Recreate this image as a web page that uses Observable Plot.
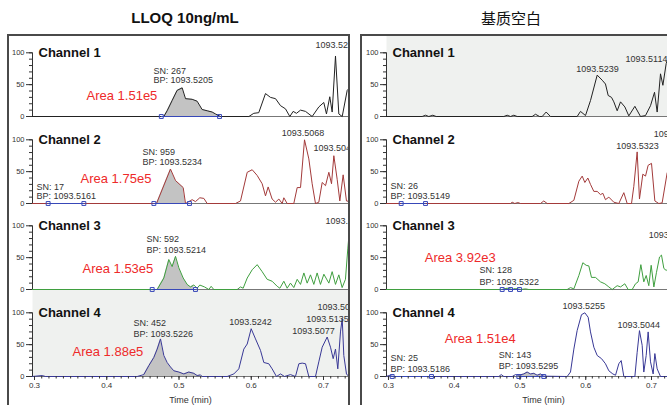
<!DOCTYPE html>
<html><head><meta charset="utf-8">
<script src="https://cdn.jsdelivr.net/npm/d3@7"></script>
<script src="https://cdn.jsdelivr.net/npm/@observablehq/plot@0.6"></script>
<style>
html,body{margin:0;padding:0;background:#fff;overflow:hidden}
#root{position:relative;width:667px;height:405px;overflow:hidden;background:#fff;font-family:"Liberation Sans",Arial,sans-serif}
.title{position:absolute;top:9px;line-height:18px;font-size:15px;color:#111;white-space:nowrap;transform:translateX(-50%)}
.frame{position:absolute;top:34px;height:400px;border:2px solid #4a4a4a;overflow:hidden}
</style></head><body>
<div id="root">
<div class="title" style="left:185px;font-weight:bold">LLOQ 10ng/mL</div>
<div class="title" style="left:511px;font-family:'Noto Sans CJK SC',sans-serif">基质空白</div>
<div class="frame" id="colL" style="left:7px;width:339px"></div>
<div class="frame" id="colR" style="left:360px;width:400px"></div>
</div>
<script>
const columnTitles = ["LLOQ 10ng/mL", "基质空白"];
const channels = ["Channel 1", "Channel 2", "Channel 3", "Channel 4"];
const xTicks = [0.3, 0.4, 0.5, 0.6, 0.7];
const yTicks = [0, 50, 100];
const yMinorTicks = [0, 10, 20, 30, 40, 50, 60, 70, 80, 90, 100];
const xLabel = "Time (min)";
const traceColors = ["#222222", "#a33a3a", "#3f9f3f", "#383896"];

// LLOQ 10ng/mL traces: [time (min), relative intensity %]
const lloqCh1 = [[0.297,0],[0.479,0],[0.4836,9],[0.4905,25],[0.4974,41],[0.5044,45],[0.509,28],[0.5182,27],[0.5251,24],[0.532,11],[0.539,9],[0.5459,7],[0.5505,4],[0.5574,0],[0.5967,0],[0.6035,5],[0.6104,6],[0.6197,36],[0.6266,30],[0.6336,28],[0.6405,17],[0.6474,12],[0.6534,0],[0.658,8],[0.6626,5],[0.6682,10],[0.6751,8],[0.6843,0],[0.6935,15],[0.7004,22],[0.7041,4],[0.7087,31],[0.712,7],[0.7166,95],[0.7212,4],[0.7259,0],[0.7328,41],[0.737,46]];
const lloqCh2 = [[0.297,0],[0.4689,0],[0.4882,54],[0.4952,36],[0.5058,25],[0.509,0],[0.5182,6],[0.5228,3],[0.5288,9],[0.5344,8],[0.539,0],[0.5782,0],[0.5851,4],[0.5944,49],[0.6013,53],[0.6082,44],[0.6151,31],[0.6197,12],[0.6234,26],[0.6289,7],[0.6336,2],[0.6382,7],[0.6428,0],[0.6451,9],[0.6497,0],[0.6589,0],[0.6636,25],[0.6682,25],[0.6737,100],[0.6797,70],[0.6843,31],[0.6889,0],[0.6935,2],[0.6982,33],[0.7028,28],[0.7074,49],[0.7111,31],[0.7143,75],[0.7189,38],[0.7226,4],[0.7272,45],[0.7318,4],[0.7364,3]];
const lloqCh3 = [[0.297,0],[0.4698,0],[0.479,18],[0.4859,47],[0.4905,36],[0.4952,52],[0.4998,34],[0.5058,18],[0.5113,8],[0.5159,4],[0.5205,7],[0.5251,2],[0.5288,7],[0.5353,4],[0.5413,0],[0.5445,5],[0.5482,0],[0.5805,0],[0.5851,4],[0.5888,2],[0.5944,18],[0.6013,31],[0.6082,39],[0.6151,28],[0.622,16],[0.6289,13],[0.6359,5],[0.6396,2],[0.6451,13],[0.6497,2],[0.6543,10],[0.6589,3],[0.6636,16],[0.6682,8],[0.6728,26],[0.6774,10],[0.682,23],[0.6866,8],[0.6912,26],[0.6958,8],[0.7005,24],[0.7074,10],[0.712,28],[0.7166,8],[0.7212,23],[0.7258,3],[0.7304,16],[0.7337,65],[0.7364,100]];
const lloqCh4 = [[0.297,0],[0.3106,1.5],[0.3152,0],[0.4421,0],[0.4513,3],[0.4582,17],[0.4652,30],[0.4698,43],[0.4744,59],[0.479,33],[0.4836,22],[0.4882,15],[0.4928,9],[0.4998,7],[0.5067,4],[0.5136,7],[0.5205,5],[0.5251,1.5],[0.5298,2.5],[0.532,0],[0.5667,0],[0.5759,4],[0.5828,12],[0.5897,43],[0.5944,51],[0.5999,75],[0.6059,59],[0.6128,41],[0.6174,22],[0.6243,20],[0.6289,12],[0.6349,0],[0.6405,4],[0.646,0],[0.6543,3],[0.6612,0],[0.6659,20],[0.6705,21],[0.6751,20],[0.6797,0],[0.6889,0],[0.6935,23],[0.6982,46],[0.7051,62],[0.7097,46],[0.7134,28],[0.7166,43],[0.7198,12],[0.7235,70],[0.7259,91],[0.7281,33],[0.7318,4],[0.735,0]];

// 基质空白 traces
const blankCh1 = [[0.2965,0],[0.3512,0],[0.3563,2],[0.3613,0],[0.3674,2],[0.3725,0],[0.4754,0],[0.4805,2],[0.4856,0],[0.4906,2],[0.4957,0],[0.5185,0],[0.5236,3.5],[0.5297,0],[0.5337,0],[0.5398,7],[0.5464,0],[0.5869,0],[0.592,8],[0.5996,1.5],[0.6072,25],[0.6174,65],[0.625,57],[0.63,51],[0.6341,33],[0.6392,30],[0.6427,23],[0.6478,9],[0.6529,23],[0.6595,15],[0.6655,1],[0.6747,16],[0.6833,0],[0.6909,1.5],[0.6985,17],[0.7046,38],[0.7086,7],[0.7137,67],[0.7173,49],[0.7223,83],[0.7264,95]];
const blankCh2 = [[0.2965,0],[0.4856,0],[0.4881,2],[0.4921,0],[0.4967,1.5],[0.5008,0],[0.5312,0],[0.5362,4],[0.5413,0],[0.5743,0],[0.5819,5],[0.5895,35],[0.5946,43],[0.5986,33],[0.6032,40],[0.6072,30],[0.6123,19],[0.6174,19],[0.6224,14],[0.626,16],[0.63,6],[0.6351,10],[0.6427,2],[0.6503,0],[0.6579,17],[0.663,0],[0.6696,0],[0.6731,27],[0.6782,81],[0.6817,7],[0.6868,46],[0.6909,43],[0.6949,60],[0.7,63],[0.7051,4],[0.7111,0],[0.7162,1],[0.7238,48],[0.73,60]];
const blankCh3 = [[0.2965,0],[0.4729,0],[0.4805,2],[0.4881,0],[0.4932,1.5],[0.5008,0],[0.5084,1],[0.5134,0],[0.5717,0],[0.5768,3],[0.5819,1],[0.5895,22],[0.5956,42],[0.6006,38],[0.6047,37],[0.6087,19],[0.6148,19],[0.6224,12],[0.629,9],[0.6351,4],[0.6402,0],[0.6478,6],[0.6529,4],[0.6594,9],[0.6645,0],[0.6706,0],[0.6757,9],[0.6797,12],[0.6838,39],[0.6883,12],[0.6919,22],[0.6959,6],[0.6995,38],[0.7036,4],[0.7076,27],[0.7122,51],[0.7152,54],[0.7188,33],[0.7223,30],[0.7264,33]];
const blankCh4 = [[0.2965,0],[0.3005,1.5],[0.3081,0],[0.4678,0],[0.4714,3],[0.4754,0],[0.4881,0],[0.4932,3],[0.4982,2],[0.5058,4],[0.5109,7],[0.516,4],[0.521,5],[0.5261,2],[0.5312,4],[0.5362,0.5],[0.5717,0],[0.5768,7],[0.5819,43],[0.5869,72],[0.5935,97],[0.5986,100],[0.6037,93],[0.6072,70],[0.6123,46],[0.6174,33],[0.624,28],[0.63,20],[0.6351,9],[0.6412,4],[0.6453,2],[0.6503,20],[0.6539,25],[0.6579,0],[0.6747,0],[0.6782,38],[0.6817,72],[0.6858,49],[0.6883,7],[0.6919,33],[0.6949,70],[0.6985,23],[0.7025,4],[0.7051,36],[0.7086,12],[0.7137,0],[0.73,0]];

// integration markers (times) and shaded peak ranges
const lloqMarkers = [[[0.4755,0.5561]], [[0.3189,0.3683],[0.4652,0.5145]], [[0.4629,0.5228]], []];
const blankMarkers = [[], [[0.3193,0.3563]], [[0.4729,0.4856,0.4992]], [[0.3056,0.3654],[0.4982,0.5362]]];
const lloqPeakRanges = [[0.475,0.558],[0.465,0.51],[0.46,0.5235],[0.45,0.53]];
const blankPeakRanges = [null, null, [0.4729,0.4992], [0.4982,0.5362]];

// annotations: t, v, text, kind
const lloqNotes1 = [
  {t:0.4647,v:72,s:"SN: 267",k:"info"},{t:0.4647,v:56.5,s:"BP: 1093.5205",k:"info"},
  {t:0.372,v:33,s:"Area 1.51e5",k:"area"},{t:0.6889,v:111.5,s:"1093.525",k:"cut"}];
const lloqNotes2 = [
  {t:0.4495,v:81,s:"SN: 959",k:"info"},{t:0.4495,v:64.3,s:"BP: 1093.5234",k:"info"},
  {t:0.3028,v:26,s:"SN: 17",k:"info"},{t:0.3028,v:11,s:"BP: 1093.5161",k:"info"},
  {t:0.3637,v:39,s:"Area 1.75e5",k:"area"},{t:0.6716,v:110,s:"1093.5068",k:"peak"},
  {t:0.6862,v:87,s:"1093.504",k:"cut"}];
const lloqNotes3 = [
  {t:0.455,v:78.5,s:"SN: 592",k:"info"},{t:0.455,v:61.7,s:"BP: 1093.5214",k:"info"},
  {t:0.3664,v:33,s:"Area 1.53e5",k:"area"},{t:0.7028,v:107,s:"1093.51",k:"cut"}];
const lloqNotes4 = [
  {t:0.437,v:84,s:"SN: 452",k:"info"},{t:0.437,v:67,s:"BP: 1093.5226",k:"info"},
  {t:0.3526,v:38,s:"Area 1.88e5",k:"area"},{t:0.599,v:86,s:"1093.5242",k:"peak"},
  {t:0.7055,v:89.5,s:"1093.5135",k:"peak"},{t:0.6862,v:72,s:"1093.5077",k:"peak"},
  {t:0.6917,v:109,s:"1093.50",k:"cut"}];
const blankNotes1 = [
  {t:0.6179,v:73.8,s:"1093.5239",k:"peak"},{t:0.6924,v:90.6,s:"1093.5114",k:"peak"}];
const blankNotes2 = [
  {t:0.303,v:26.7,s:"SN: 26",k:"info"},{t:0.303,v:11,s:"BP: 1093.5149",k:"info"},
  {t:0.6787,v:89.5,s:"1093.5323",k:"peak"},{t:0.7035,v:109,s:"109",k:"cut"}];
const blankNotes3 = [
  {t:0.3552,v:50,s:"Area 3.92e3",k:"area"},{t:0.4384,v:30,s:"SN: 128",k:"info"},
  {t:0.4384,v:12,s:"BP: 1093.5322",k:"info"},{t:0.6959,v:85.3,s:"1093",k:"cut"}];
const blankNotes4 = [
  {t:0.597,v:110,s:"1093.5255",k:"peak"},{t:0.6807,v:81,s:"1093.5044",k:"peak"},
  {t:0.3857,v:59,s:"Area 1.51e4",k:"area"},
  {t:0.303,v:29,s:"SN: 25",k:"info"},{t:0.303,v:12,s:"BP: 1093.5186",k:"info"},
  {t:0.4678,v:34,s:"SN: 143",k:"info"},{t:0.4678,v:16,s:"BP: 1093.5295",k:"info"}];

const columns = [
  {id:"colL", domain:[0.29723,0.7346], width:339, ml:23,
   traces:[lloqCh1,lloqCh2,lloqCh3,lloqCh4], notes:[lloqNotes1,lloqNotes2,lloqNotes3,lloqNotes4],
   markers:lloqMarkers, ranges:lloqPeakRanges, shaded:[false,false,false,true]},
  {id:"colR", domain:[0.29696,0.77452], width:338, ml:24,
   traces:[blankCh1,blankCh2,blankCh3,blankCh4], notes:[blankNotes1,blankNotes2,blankNotes3,blankNotes4],
   markers:blankMarkers, ranges:blankPeakRanges, shaded:[true,false,false,false]}
];

const noteStyles = {
  info:{fontSize:9, textAnchor:"start", fill:"#333"},
  cut:{fontSize:9, textAnchor:"start", fill:"#333"},
  peak:{fontSize:9, textAnchor:"middle", fill:"#333"},
  area:{fontSize:13, textAnchor:"start", fill:"#ee2a2a"}
};

const PH = 87;          // panel pixel height from previous baseline to baseline
const YPX = 0.637;      // px per percent
const STEP = 86.67;

columns.forEach(col => {
  const host = document.getElementById(col.id);
  col.traces.forEach((trace, i) => {
    const last = i === 3;
    const mb = last ? 30 : 2;
    const marks = [];
    if (col.shaded[i]) marks.push(Plot.frame({fill:"#eff1ef", stroke:"none"}));
    marks.push(Plot.ruleY([0], {stroke:"#777"}));
    const r = col.ranges[i];
    if (r) marks.push(Plot.areaY(trace.filter(d => d[0] >= r[0] && d[0] <= r[1]), {x:d=>d[0], y:d=>d[1], fill:"#c3c3c3"}));
    marks.push(Plot.lineY(trace, {x:d=>d[0], y:d=>d[1], stroke:traceColors[i], strokeWidth:1}));
    col.markers[i].forEach(seg => {
      marks.push(Plot.lineY(seg, {x:d=>d, y:()=>0, stroke:"#3848b8", strokeWidth:1}));
      marks.push(Plot.dot(seg, {x:d=>d, y:()=>0, symbol:"square", r:2.2, stroke:"#3848b8", fill:"none", strokeWidth:1}));
    });
    marks.push(Plot.axisY({ticks:yMinorTicks, tickSize:3, tickFormat:()=>"", label:null}));
    marks.push(Plot.axisY({ticks:yTicks, tickSize:6, tickPadding:2, fontSize:7.5, label:null}));
    marks.push(Plot.ruleX([col.domain[0]], {y1:yTicks[0], y2:yTicks[yTicks.length-1], stroke:"#333"}));
    if (last) {
      marks.push(Plot.axisX({ticks:d3.range(30, 75).map(d => d/100), tickSize:2.5, tickFormat:()=>"", label:null}));
      marks.push(Plot.axisX({ticks:xTicks, tickSize:4, tickPadding:2, fontSize:8, tickFormat:d3.format(".1f"), label:null}));
      marks.push(Plot.text([xLabel], {frameAnchor:"bottom", dy:24, fontSize:9, lineAnchor:"middle", fill:"#333"}));
    }
    marks.push(Plot.text([channels[i]], {frameAnchor:"top-left", dx:6, dy:23.5, fontSize:13, fontWeight:"bold", textAnchor:"start", lineAnchor:"middle", fill:"#111"}));
    Object.keys(noteStyles).forEach(k => {
      const sub = col.notes[i].filter(n => n.k === k);
      if (sub.length) marks.push(Plot.text(sub, {x:"t", y:"v", text:"s", lineAnchor:"middle", ...noteStyles[k]}));
    });
    const svg = Plot.plot({
      width: col.width, height: PH + mb,
      marginLeft: col.ml, marginRight: 0, marginTop: 0, marginBottom: mb,
      x: {domain: col.domain, axis: last ? undefined : null},
      y: {domain: [0, PH / YPX]},
      style: {background:"transparent", overflow:"visible", fontFamily:"'Liberation Sans', Arial, sans-serif", color:"#333"},
      marks
    });
    svg.style.position = "absolute";
    svg.style.left = "0px";
    svg.style.top = (-7 + STEP * i) + "px";
    svg.style.zIndex = String(4 - i);
    svg.style.maxWidth = "none";
    host.appendChild(svg);
  });
});
</script>
</body></html>
